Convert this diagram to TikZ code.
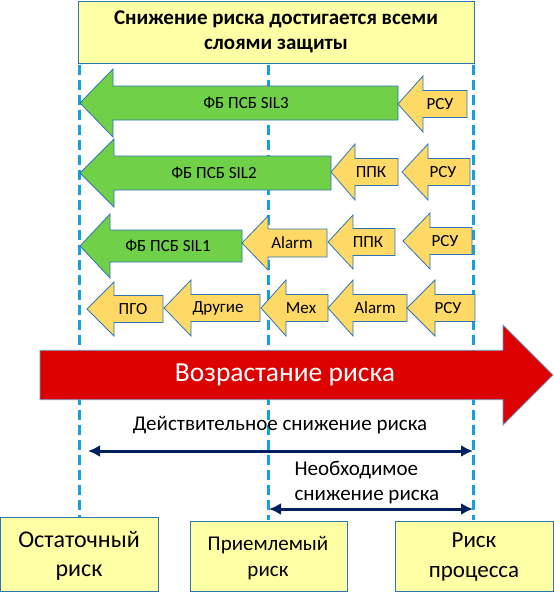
\documentclass[tikz,border=0pt]{standalone}
\usepackage{fontspec}
\setmainfont{Carlito}
\usepackage{tikz}
\usetikzlibrary{arrows.meta,positioning,calc}
\definecolor{myblue}{RGB}{46,117,182}
\definecolor{dashblue}{RGB}{20,160,225}
\definecolor{navy}{RGB}{0,32,96}
\definecolor{lyellow}{RGB}{255,255,166}
\definecolor{ayellow}{RGB}{255,217,102}
\definecolor{agreen}{RGB}{112,208,72}
\definecolor{ared}{RGB}{220,0,0}
\tikzset{
    sep/.style    = {draw=dashblue, line width=3pt, dash pattern=on 10pt off 5pt},
    box/.style    = {draw=myblue, fill=lyellow, line width=0.8pt},
    yarrow/.style = {draw=myblue, fill=ayellow, line width=0.8pt},
    garrow/.style = {draw=myblue, fill=agreen, line width=0.8pt},
    rarrow/.style = {draw=myblue!70, fill=ared, line width=0.8pt},
    lbl/.style    = {inner sep=0pt, font=\fontsize{17}{20}\selectfont},
    dim/.style    = {{Latex[length=12pt,width=12pt]}-{Latex[length=12pt,width=12pt]}, draw=navy, line width=3pt},
}
% left arrow: style, tip x, neck x, tail x, y, head half, body half
\newcommand\larrow[7]{%
  \draw[#1] (#2,#5) -- (#3,{#5-#6}) -- (#3,{#5-#7}) -- (#4,{#5-#7})
    -- (#4,{#5+#7}) -- (#3,{#5+#7}) -- (#3,{#5+#6}) -- cycle;}
\begin{document}
\begin{tikzpicture}[x=1pt,y=-1pt]
    \useasboundingbox (0,0) rectangle (554,600);
    % Separators
    \draw[sep] (79,50) -- (79,517);
    \draw[sep] (268,50) -- (268,520);
    \draw[sep] (473,50) -- (473,520);
    % Title
    \draw[box] (78,1) rectangle (474,63);
    \node[font=\bfseries\fontsize{21}{24.5}\selectfont, align=center] (title) at (276,32)
        {Снижение риска достигается всеми\\слоями защиты};
    % Row 1
    \larrow{garrow}{80}{113}{398}{103}{34}{17}
    \larrow{yarrow}{398}{423}{467}{104}{28}{13.5}
    \node[lbl] (sil3) at (246,103) {ФБ ПСБ SIL3};
    \node[lbl] (rsuA) at (440,104) {РСУ};
    % Row 2
    \larrow{garrow}{80}{114}{331}{173}{34}{17}
    \larrow{yarrow}{331}{355}{398}{172}{28}{13.5}
    \larrow{yarrow}{402}{428}{470}{172}{28}{13.5}
    \node[lbl] (sil2) at (214,173) {ФБ ПСБ SIL2};
    \node[lbl] (ppkB) at (371,172) {ППК};
    \node[lbl] (rsuB) at (443,172) {РСУ};
    % Row 3
    \larrow{garrow}{80}{110}{242}{246}{32}{16}
    \larrow{yarrow}{242}{268}{327}{243}{27}{14}
    \larrow{yarrow}{328}{353}{395}{242}{27}{13.5}
    \larrow{yarrow}{403}{430}{472}{241}{28}{13.5}
    \node[lbl] (sil1) at (168,246) {ФБ ПСБ SIL1};
    \node[lbl] (almC) at (292,243) {Alarm};
    \node[lbl] (ppkC) at (368,242) {ППК};
    \node[lbl] (rsuC) at (445,241) {РСУ};
    % Row 4
    \larrow{yarrow}{87}{114}{163}{309}{27}{13.5}
    \larrow{yarrow}{164}{191}{260}{308}{28}{13.5}
    \larrow{yarrow}{261}{286}{328}{308}{28}{13.5}
    \larrow{yarrow}{328}{353}{407}{308}{28}{13.5}
    \larrow{yarrow}{407}{435}{475}{308}{28}{13.5}
    \node[lbl] (pgo) at (133,309) {ПГО};
    \node[lbl] (other) at (218,308) {Другие};
    \node[lbl] (mech) at (301,308) {Мех};
    \node[lbl] (almD) at (375,308) {Alarm};
    \node[lbl] (rsuD) at (448,308) {РСУ};
    % Risk growth
    \larrow{rarrow}{553}{503}{40}{375}{50}{24.7}
    \node[font=\fontsize{27.5}{30}\selectfont, text=white] (grow) at (285,375) {Возрастание риска};
    % Bottom boxes
    \draw[box] (0,517) rectangle (158,591);
    \draw[box] (190,521) rectangle (347,591);
    \draw[box] (395,521) rectangle (553,591);
    \node[font=\fontsize{24}{28.5}\selectfont, align=center] (resid) at (79,556) {Остаточный\\риск};
    \node[font=\fontsize{21}{25.5}\selectfont, align=center] (accept) at (268,558) {Приемлемый\\риск};
    \node[font=\fontsize{23}{30}\selectfont, align=center] (proc) at (474,557) {Риск\\процесса};
    % Reductions
    \coordinate (actL) at (88,451);
    \coordinate (actR) at (473,451);
    \coordinate (reqL) at (269,509);
    \coordinate (reqR) at (473,509);
    \draw[dim] (actL) -- (actR);
    \draw[dim] (reqL) -- (reqR);
    \node[font=\fontsize{21}{26}\selectfont] (actual) at (280,425) {Действительное снижение риска};
    \node[font=\fontsize{21}{25}\selectfont, align=left, anchor=west] (required) at (291,483)
        {Необходимое\\снижение риска};
\end{tikzpicture}
\end{document}
